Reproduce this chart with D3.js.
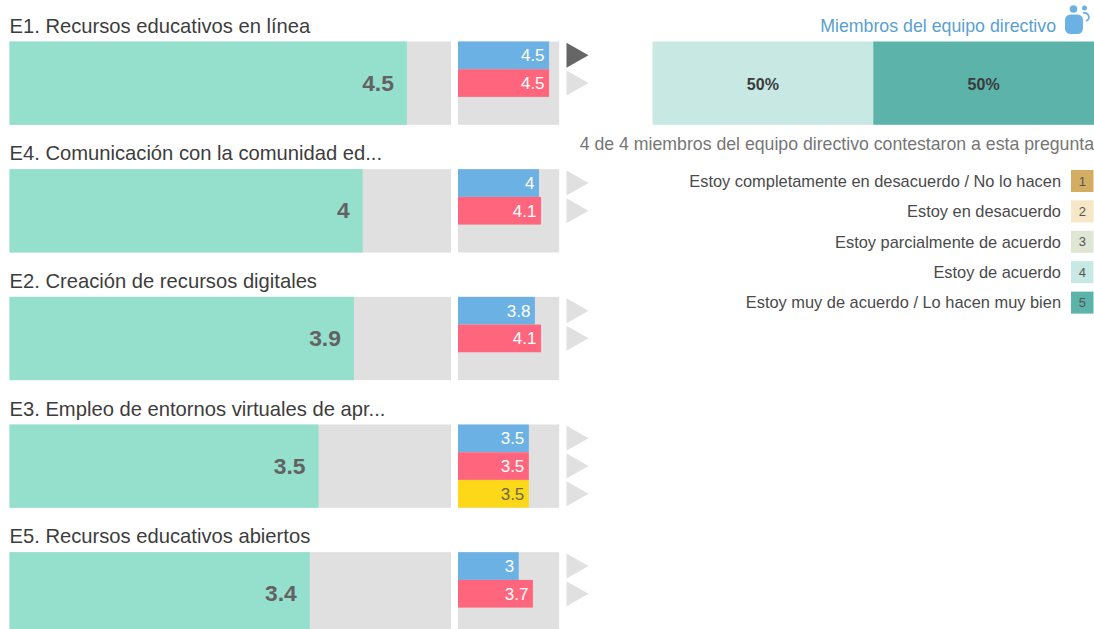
<!DOCTYPE html>
<html><head><meta charset="utf-8">
<script src="https://cdn.jsdelivr.net/npm/d3@7/dist/d3.min.js"></script>
<style>html,body{margin:0;padding:0;background:#fff;overflow:hidden}svg{display:block;font-family:"Liberation Sans",Arial,sans-serif}</style>
</head><body><svg id="c" width="1094" height="629"></svg>
<script>
const titles = ["E1. Recursos educativos en línea","E4. Comunicación con la comunidad ed...","E2. Creación de recursos digitales","E3. Empleo de entornos virtuales de apr...","E5. Recursos educativos abiertos"];
const mainValues = [4.5,4,3.9,3.5,3.4];
const blueValues = [4.5,4,3.8,3.5,3];
const redValues = [4.5,4.1,4.1,3.5,3.7];
const yellowValues = [null,null,null,3.5,null];
const stackShares = [50,50];
const legendLabels = ["Estoy completamente en desacuerdo / No lo hacen","Estoy en desacuerdo","Estoy parcialmente de acuerdo","Estoy de acuerdo","Estoy muy de acuerdo / Lo hacen muy bien"];
const legendColors = ["#d3ae62","#f6e7c6","#dfe6d4","#c8e9e3","#5bb3a9"];

const svg = d3.select("#c");
const rowY = d3.scaleLinear().domain([0,4]).range([41.5,552.2]);
const rowH = 83.3, subH = 27.7;
const xMain = d3.scaleLinear().domain([0,5]).range([9.5,451]);
const xSmall = d3.scaleLinear().domain([0,5]).range([458,559.2]);
const grey = "#e0e0e0";

titles.forEach((t,i)=>{
  const y = rowY(i);
  const g = svg.append("g");
  g.append("text").attr("x",9.5).attr("y",y-9).attr("font-size",20.2).attr("fill","#3d3d3d").text(t);
  g.append("rect").attr("x",xMain(0)).attr("y",y).attr("width",xMain(5)-xMain(0)).attr("height",rowH).attr("fill",grey);
  g.append("rect").attr("x",xMain(0)).attr("y",y).attr("width",xMain(mainValues[i])-xMain(0)).attr("height",rowH).attr("fill","#95dfcd");
  g.append("text").attr("x",xMain(mainValues[i])-13).attr("y",y+rowH/2+7.5).attr("text-anchor","end")
    .attr("font-size",22.8).attr("font-weight","bold").attr("fill","#626262").text(mainValues[i]);
  g.append("rect").attr("x",xSmall(0)).attr("y",y).attr("width",xSmall(5)-xSmall(0)).attr("height",rowH).attr("fill",grey);
  const subs = [[blueValues[i],"#6cb1e4","#fff"],[redValues[i],"#ff667d","#fff"],[yellowValues[i],"#fdd818","#6a6a50"]];
  subs.forEach((s,k)=>{
    const sy = y+k*subH;
    if(s[0]!==null){
      g.append("rect").attr("x",xSmall(0)).attr("y",sy).attr("width",xSmall(s[0])-xSmall(0)).attr("height",subH).attr("fill",s[1]);
      g.append("text").attr("x",xSmall(s[0])-4.5).attr("y",sy+subH/2+6).attr("text-anchor","end")
        .attr("font-size",17).attr("fill",s[2]).text(s[0]);
      const dark = i===0&&k===0;
      g.append("path").attr("transform",`translate(566.5,${sy+1.3})`).attr("d","M0,0L22,12.5L0,25Z").attr("fill",dark?"#666":grey);
    }
  });
});

// stacked bar
const xStack = d3.scaleLinear().domain([0,100]).range([652.5,1094]);
const stackColors = [legendColors[3],legendColors[4]];
let acc = 0;
stackShares.forEach((v,i)=>{
  svg.append("rect").attr("x",xStack(acc)).attr("y",41.5).attr("width",xStack(acc+v)-xStack(acc)).attr("height",83.3).attr("fill",stackColors[i]);
  svg.append("text").attr("x",xStack(acc+v/2)).attr("y",89.5).attr("text-anchor","middle").attr("font-size",16).attr("font-weight","bold").attr("fill","#3a3a3a").text(v+"%");
  acc += v;
});

svg.append("text").attr("x",1056).attr("y",32).attr("text-anchor","end").attr("font-size",17.75).attr("fill","#5a9fd0").text("Miembros del equipo directivo");
const ic = svg.append("g").attr("fill","#6cb1e4");
ic.append("rect").attr("x",1065).attr("y",14.5).attr("width",18).attr("height",19.5).attr("rx",5.5);
ic.append("circle").attr("cx",1073.5).attr("cy",9).attr("r",3.8);
ic.append("circle").attr("cx",1084.5).attr("cy",8).attr("r",2.5);
ic.append("path").attr("d","M1083,13 Q1088,12 1089,17 Q1089,20 1086,21").attr("fill","none").attr("stroke","#6cb1e4").attr("stroke-width",1.6);

svg.append("text").attr("x",1094).attr("y",150).attr("text-anchor","end").attr("font-size",17.7).attr("fill","#767676").text("4 de 4 miembros del equipo directivo contestaron a esta pregunta");

legendLabels.forEach((t,i)=>{
  const cy = 181+i*30.4;
  svg.append("text").attr("x",1061).attr("y",cy+5.7).attr("text-anchor","end").attr("font-size",16.4).attr("fill","#4a4a4a").text(t);
  svg.append("rect").attr("x",1071).attr("y",cy-11).attr("width",22.5).attr("height",22).attr("fill",legendColors[i]);
  svg.append("text").attr("x",1082.3).attr("y",cy+4.5).attr("text-anchor","middle").attr("font-size",13).attr("fill","#555").text(i+1);
});
</script></body></html>
